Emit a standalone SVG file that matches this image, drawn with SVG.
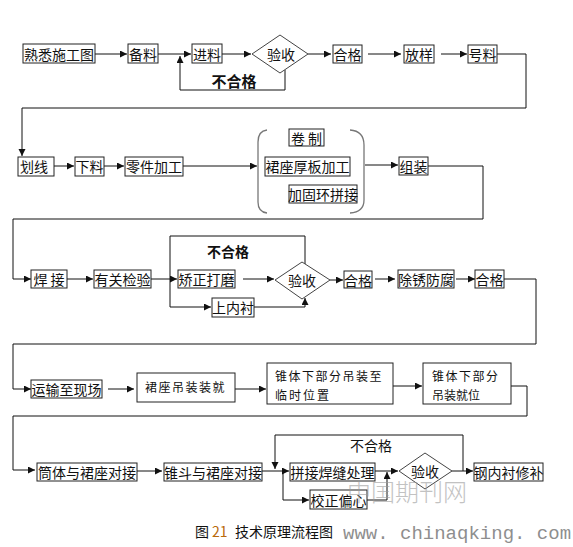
<svg xmlns="http://www.w3.org/2000/svg" width="573" height="547" viewBox="0 0 573 547">
<style>
.b{fill:#fff;stroke:#222;stroke-width:1}
.d{fill:#fff;stroke:#444;stroke-width:1}
.t{font-family:"Noto Sans CJK SC","Liberation Sans",sans-serif;font-size:14px;fill:#111;text-anchor:middle;dominant-baseline:central}
.s{font-family:"Noto Sans CJK SC","Liberation Sans",sans-serif;font-size:12px;fill:#111;letter-spacing:1.5px}
.bold{font-weight:bold;font-size:15px}
.c{fill:none;stroke:#111;stroke-width:1}
.br{fill:none;stroke:#777;stroke-width:1.3}
</style>
<defs>
<marker id="a" markerUnits="userSpaceOnUse" markerWidth="8" markerHeight="8" refX="7" refY="3.5" orient="auto">
<path d="M0,0 L7,3.5 L0,7 Z" fill="#111"/>
</marker>
</defs>
<rect width="573" height="547" fill="#fff"/>
<g id="connectors">
<line class="c" x1="95" y1="54" x2="127" y2="54" marker-end="url(#a)"/>
<line class="c" x1="158" y1="54" x2="191" y2="54" marker-end="url(#a)"/>
<line class="c" x1="222" y1="54" x2="251" y2="54" marker-end="url(#a)"/>
<polyline class="c" points="285,70 285,90 180,90 180,56" marker-end="url(#a)"/>
<line class="c" x1="308" y1="54" x2="331" y2="54" marker-end="url(#a)"/>
<line class="c" x1="368" y1="54" x2="401" y2="54" marker-end="url(#a)"/>
<line class="c" x1="441" y1="54" x2="467" y2="54" marker-end="url(#a)"/>
<polyline class="c" points="495,54 526,54 526,108 22,108 22,156" marker-end="url(#a)"/>
<line class="c" x1="54" y1="166" x2="74" y2="166" marker-end="url(#a)"/>
<line class="c" x1="104" y1="166" x2="124" y2="166" marker-end="url(#a)"/>
<line class="c" x1="183" y1="166" x2="257" y2="166" marker-end="url(#a)"/>
<line class="c" x1="365" y1="165" x2="398" y2="165" marker-end="url(#a)"/>
<polyline class="c" points="428,166 483,166 483,219 13,219 13,279 31,279" marker-end="url(#a)"/>
<line class="c" x1="67" y1="279" x2="93" y2="279" marker-end="url(#a)"/>
<line class="c" x1="151" y1="279" x2="177" y2="279" marker-end="url(#a)"/>
<polyline class="c" points="305,264 305,236 170,236 170,307 211,307" marker-end="url(#a)"/>
<polyline class="c" points="254,307 305,307 305,298" marker-end="url(#a)"/>
<line class="c" x1="243" y1="279" x2="274" y2="279" marker-end="url(#a)"/>
<line class="c" x1="330" y1="280" x2="343" y2="280" marker-end="url(#a)"/>
<line class="c" x1="375" y1="279" x2="395" y2="279" marker-end="url(#a)"/>
<line class="c" x1="456" y1="279" x2="475" y2="279" marker-end="url(#a)"/>
<polyline class="c" points="504,279 536,279 536,344 13,344 13,389 31,389" marker-end="url(#a)"/>
<line class="c" x1="108" y1="389" x2="134" y2="389" marker-end="url(#a)"/>
<line class="c" x1="235" y1="389" x2="266" y2="389" marker-end="url(#a)"/>
<line class="c" x1="393" y1="386" x2="422" y2="386" marker-end="url(#a)"/>
<polyline class="c" points="511,386 527,386 527,416 13,416 13,470 35,470" marker-end="url(#a)"/>
<line class="c" x1="137" y1="471" x2="162" y2="471" marker-end="url(#a)"/>
<line class="c" x1="262" y1="471" x2="289" y2="471" marker-end="url(#a)"/>
<polyline class="c" points="463,471 463,435 275,435 275,469" marker-end="url(#a)"/>
<polyline class="c" points="283,471 283,500 309,500" marker-end="url(#a)"/>
<line class="c" x1="375" y1="471" x2="398" y2="471" marker-end="url(#a)"/>
<polyline class="c" points="367,500 387,500 387,472" marker-end="url(#a)"/>
<line class="c" x1="452" y1="471" x2="473" y2="471" marker-end="url(#a)"/>
</g>
<g id="n1"><rect class="b" x="23" y="44" width="72" height="19"/><text class="t" x="59" y="54">熟悉施工图</text></g>
<g id="n2"><rect class="b" x="128" y="44" width="30" height="19"/><text class="t" x="143" y="54">备料</text></g>
<g id="n3"><rect class="b" x="192" y="44" width="30" height="19"/><text class="t" x="207" y="54">进料</text></g>
<g id="n4"><polygon class="d" points="252,54 280,35 308,54 280,73"/><text class="t" x="281" y="54">验收</text></g>
<g id="l1"><text class="t bold" x="234" y="80">不合格</text></g>
<g id="n5"><rect class="b" x="333" y="45" width="29" height="18"/><text class="t" x="347.5" y="54">合格</text></g>
<g id="n6"><rect class="b" x="404" y="45" width="30" height="18"/><text class="t" x="419" y="54">放样</text></g>
<g id="n7"><rect class="b" x="468" y="45" width="29" height="18"/><text class="t" x="482.5" y="54">号料</text></g>
<g id="n8"><rect class="b" x="18" y="157" width="36" height="19"/><text class="t" x="34" y="166">划线</text></g>
<g id="n9"><rect class="b" x="75" y="157" width="29" height="19"/><text class="t" x="89.5" y="166">下料</text></g>
<g id="n10"><rect class="b" x="125" y="157" width="58" height="19"/><text class="t" x="154" y="166">零件加工</text></g>
<g id="brace">
<path class="br" d="M267,130 Q258,131 258,142 L258,202 Q258,212 267,213"/>
<path class="br" d="M350,130 Q364,131 364,145 L364,200 Q364,212 350,213"/>
</g>
<g id="n11"><rect class="b" x="289" y="129" width="35" height="17"/><text class="t" x="306.5" y="137.5">卷 制</text></g>
<g id="n12"><rect class="b" x="265" y="157" width="85" height="19"/><text class="t" x="307.5" y="166">裙座厚板加工</text></g>
<g id="n13"><rect class="b" x="289" y="185" width="68" height="18"/><text class="t" x="323" y="194">加固环拼接</text></g>
<g id="n14"><rect class="b" x="399" y="157" width="29" height="18"/><text class="t" x="413.5" y="166">组装</text></g>
<g id="n15"><rect class="b" x="31" y="270" width="36" height="18"/><text class="t" x="49" y="279">焊 接</text></g>
<g id="n16"><rect class="b" x="94" y="270" width="57" height="18"/><text class="t" x="122.5" y="279">有关检验</text></g>
<g id="n17"><rect class="b" x="178" y="270" width="57" height="18"/><text class="t" x="206.5" y="279">矫正打磨</text></g>
<g id="l2"><text class="t bold" x="228" y="251" style="font-size:14px">不合格</text></g>
<g id="n18"><rect class="b" x="212" y="298" width="42" height="19"/><text class="t" x="233" y="307">上内衬</text></g>
<g id="n19"><polygon class="d" points="275,280 302,262 330,280 302,299"/><text class="t" x="302" y="280">验收</text></g>
<g id="n20"><rect class="b" x="344" y="271" width="28" height="17"/><text class="t" x="358" y="279.5">合格</text></g>
<g id="n21"><rect class="b" x="398" y="270" width="56" height="18"/><text class="t" x="426" y="279">除锈防腐</text></g>
<g id="n22"><rect class="b" x="475" y="270" width="29" height="18"/><text class="t" x="489.5" y="279">合格</text></g>
<g id="n23"><rect class="b" x="31" y="380" width="71" height="18"/><text class="t" x="66.5" y="389">运输至现场</text></g>
<g id="n24"><rect class="b" x="137" y="373" width="98" height="29"/><text class="s" x="145" y="392">裙座吊装装就</text></g>
<g id="n25"><rect class="b" x="267" y="363" width="126" height="41"/><text class="s" x="275" y="381">锥体下部分吊装至</text><text class="s" x="275" y="400" style="letter-spacing:2px">临时位置</text></g>
<g id="n26"><rect class="b" x="423" y="363" width="88" height="41"/><text class="s" x="432" y="381">锥体下部分</text><text class="s" x="432" y="400" style="letter-spacing:0">吊装就位</text></g>
<g id="n27"><rect class="b" x="37" y="463" width="100" height="18"/><text class="t" x="87" y="472">筒体与裙座对接</text></g>
<g id="n28"><rect class="b" x="164" y="463" width="98" height="18"/><text class="t" x="213" y="472">锥斗与裙座对接</text></g>
<g id="n29"><rect class="b" x="290" y="463" width="85" height="18"/><text class="t" x="332.5" y="472">拼接焊缝处理</text></g>
<g id="n30"><rect class="b" x="310" y="490" width="57" height="19"/><text class="t" x="338.5" y="499.5">校正偏心</text></g>
<g id="n31"><polygon class="d" points="399,471 425,453 452,471 425,489"/><text class="t" x="425" y="471">验收</text></g>
<g id="n32"><rect class="b" x="474" y="463" width="69" height="18"/><text class="t" x="508.5" y="472">钢内衬修补</text></g>
<g id="l3"><text class="t" x="371" y="445">不合格</text></g>
<g id="caption"><text x="195" y="537" style="font-family:'Noto Sans CJK SC','Liberation Sans',sans-serif;font-size:14px;fill:#111">图<tspan x="212" fill="#b8690a">21</tspan><tspan x="235">技术原理流程图</tspan></text></g>
<g id="watermark" opacity="0.6">
<text x="347" y="501" style="font-family:'Liberation Serif','Noto Sans CJK SC',serif;font-size:24px;fill:#9a9a9a;font-weight:300">中国期刊网</text>
<text x="343" y="539" style="font-family:'Liberation Mono',monospace;font-size:19px;fill:#444">www. chinaqking. com</text>
</g>
</svg>
